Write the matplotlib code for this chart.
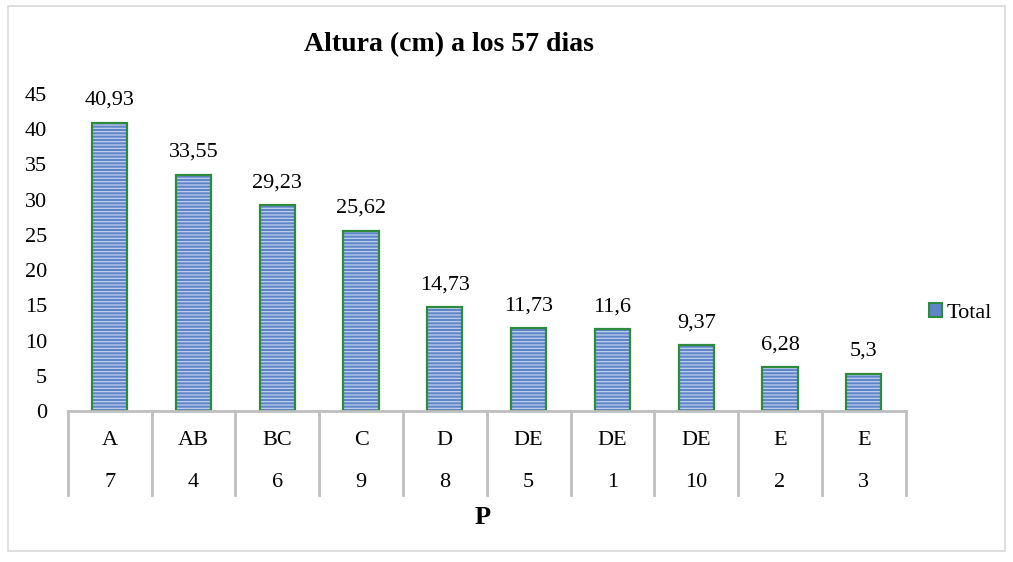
import numpy as np
import matplotlib.pyplot as plt
from matplotlib.patches import Rectangle, Patch

# Datos
letras = ["A", "AB", "BC", "C", "D", "DE", "DE", "DE", "E", "E"]
tratamientos = ["7", "4", "6", "9", "8", "5", "1", "10", "2", "3"]
alturas = [40.93, 33.55, 29.23, 25.62, 14.73, 11.73, 11.6, 9.37, 6.28, 5.3]
etiquetas = ["40,93", "33,55", "29,23", "25,62", "14,73", "11,73", "11,6", "9,37", "6,28", "5,3"]

plt.rcParams['font.family'] = ['Liberation Serif', 'DejaVu Serif']
plt.rcParams['hatch.linewidth'] = 0.9

fig = plt.figure(figsize=(10.13, 5.62), dpi=100)
ax = fig.add_axes([0.067, 0.2687, 0.827, 0.564])

x = np.arange(len(alturas))
ancho = 0.42
azul = '#5f85c8'
verde = '#2e8b3e'
gris = '#bfbfbf'

# relleno con rayas horizontales
ax.bar(x, alturas, ancho, color=azul, edgecolor='#bfd0ee', hatch='-----', linewidth=0)
# borde verde
ax.bar(x, alturas, ancho, color='none', edgecolor=verde, linewidth=1.6)

for xi, h, et in zip(x, alturas, etiquetas):
    ax.text(xi, h + 1.8, et, ha='center', va='bottom', fontsize=16)

ax.set_xlim(-0.5, len(alturas) - 0.5)
ax.set_ylim(0, 45)
ax.set_yticks(range(0, 46, 5))
ax.tick_params(axis='y', length=0, labelsize=16, pad=15)
ax.set_xticks([])
for s in ['top', 'right', 'left']:
    ax.spines[s].set_visible(False)
ax.spines['bottom'].set_color(gris)
ax.spines['bottom'].set_linewidth(2)

# tabla de categorias bajo el eje
trans = ax.get_xaxis_transform()
for b in np.arange(-0.5, len(alturas), 1.0):
    ax.plot([b, b], [0, -0.265], color=gris, lw=2, transform=trans, clip_on=False)
for xi, l, t in zip(x, letras, tratamientos):
    ax.text(xi, -0.092, l, ha='center', va='center', fontsize=16, transform=trans)
    ax.text(xi, -0.225, t, ha='center', va='center', fontsize=16, transform=trans)

fig.text(0.476, 0.08, "P", ha='center', va='center', fontsize=19, fontweight='bold')
fig.text(0.443, 0.92, "Altura (cm) a los 57 dias", ha='center', va='center',
         fontsize=20, fontweight='bold')

# leyenda
fig.legend(handles=[Patch(facecolor=azul, edgecolor=verde, linewidth=1.5)], labels=['Total'],
           loc='center left', bbox_to_anchor=(0.917, 0.443), frameon=False, fontsize=16,
           handlelength=0.6, handleheight=0.6, handletextpad=0.2, borderaxespad=0, borderpad=0)

# marco exterior
fig.patches.append(Rectangle((0.008, 0.02), 0.984, 0.97, transform=fig.transFigure,
                             fill=False, edgecolor='#d9d9d9', lw=1.2))

fig.savefig("out.png", dpi=100)
